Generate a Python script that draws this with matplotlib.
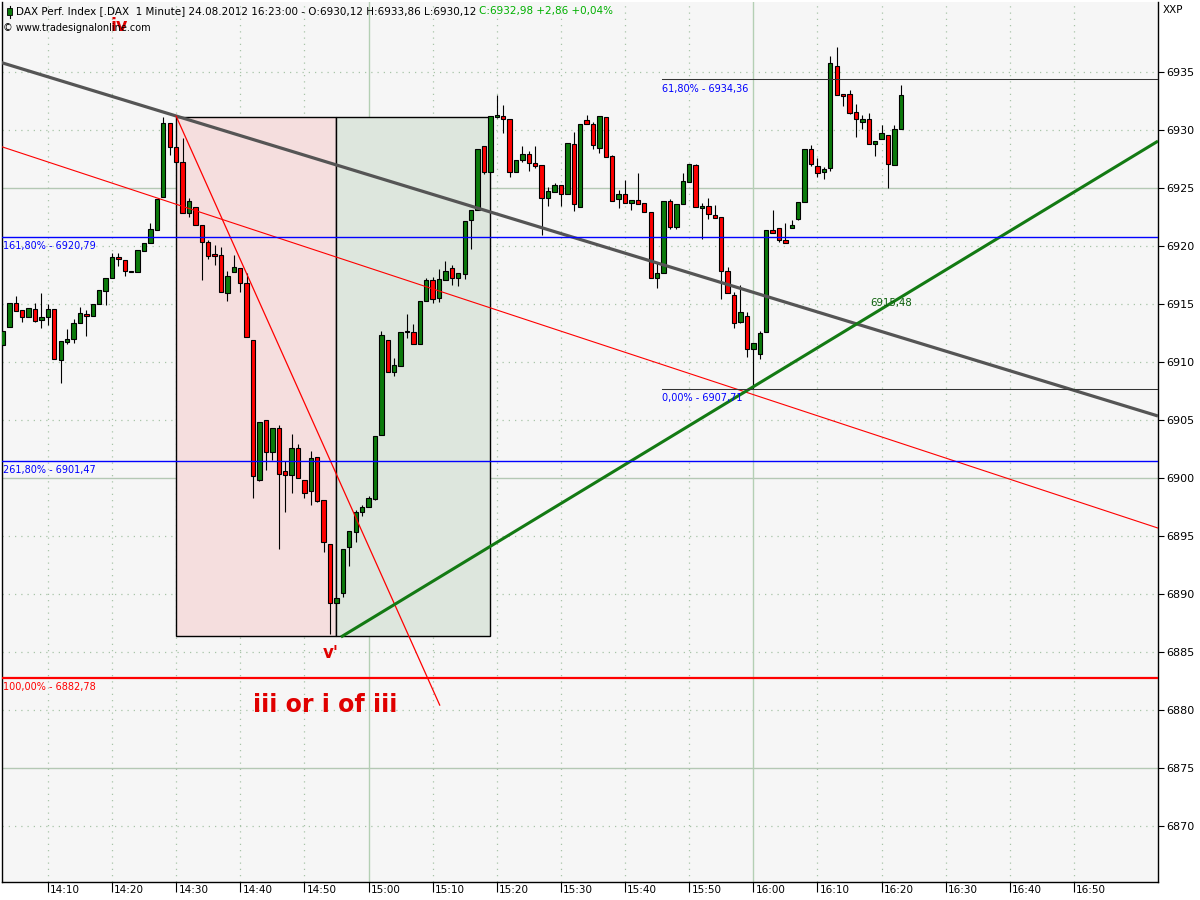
import numpy as np
import matplotlib
matplotlib.use("Agg")
import matplotlib.pyplot as plt
import matplotlib.transforms as mtransforms

# 1-minute DAX bars, first bar ends 14:03, last bar ends 16:23
first_bar_minute = 3  # minutes after 14:00

opens = [
    6911.5, 6913.0, 6915.1, 6914.5, 6913.9, 6914.6, 6913.6, 6913.9, 6914.6, 6910.2,
    6911.75, 6911.96, 6913.34, 6914.14, 6913.94, 6915.0, 6916.15, 6917.22, 6919.03, 6918.8,
    6917.85, 6917.76, 6919.57, 6920.29, 6921.38, 6924.25, 6930.63, 6928.51, 6927.22, 6922.82,
    6923.39, 6921.79, 6920.32, 6919.29, 6919.2, 6915.93, 6917.74, 6918.08, 6916.81, 6911.87,
    6899.86, 6904.98, 6902.22, 6904.29, 6900.58, 6900.24, 6902.56, 6899.8, 6898.86, 6901.79,
    6898.08, 6894.29, 6889.2, 6890.12, 6894.03, 6895.32, 6897.05, 6897.48, 6898.22, 6903.68,
    6911.87, 6909.12, 6909.68, 6912.56, 6912.56, 6911.58, 6915.29, 6917.05, 6915.49, 6917.05,
    6918.08, 6917.22, 6917.62, 6922.22, 6923.08, 6928.6, 6926.41, 6931.15, 6931.21, 6930.93,
    6926.41, 6927.42, 6927.93, 6927.13, 6926.96, 6924.12, 6924.68, 6925.26, 6924.46, 6928.8,
    6923.39, 6930.84, 6930.52, 6928.48, 6931.1, 6927.74, 6924.03, 6924.46, 6923.74, 6923.94,
    6923.71, 6922.93, 6917.22, 6917.65, 6923.86, 6921.67, 6923.6, 6925.49, 6926.99, 6923.25,
    6923.43, 6922.65, 6922.5, 6917.85, 6915.78, 6913.48, 6913.97, 6911.1, 6910.67, 6912.62,
    6921.36, 6921.53, 6920.49, 6921.53, 6922.36, 6923.77, 6928.34, 6926.87, 6926.36, 6926.7,
    6935.49, 6933.08, 6933.08, 6931.53, 6930.67, 6930.93, 6928.77, 6929.2, 6929.55, 6926.99,
    6930.12]

highs = [
    6912.7, 6915.1, 6915.69, 6914.5, 6914.63, 6915.06, 6915.93, 6915.0, 6914.6, 6911.79,
    6912.85, 6913.68, 6914.74, 6914.49, 6914.98, 6916.21, 6917.22, 6919.43, 6919.43, 6918.8,
    6917.85, 6919.66, 6920.29, 6921.96, 6924.05, 6931.1, 6930.63, 6928.51, 6929.29, 6924.14,
    6923.39, 6921.79, 6920.52, 6920.06, 6919.89, 6917.82, 6919.2, 6918.08, 6917.65, 6911.87,
    6904.8, 6904.98, 6904.29, 6904.57, 6901.47, 6903.8, 6902.93, 6899.8, 6902.33, 6901.79,
    6898.08, 6894.29, 6889.63, 6893.86, 6895.41, 6897.24, 6897.68, 6898.48, 6903.6, 6912.68,
    6911.87, 6910.32, 6912.56, 6914.12, 6913.25, 6915.24, 6917.24, 6917.36, 6917.99, 6918.68,
    6918.37, 6917.65, 6922.13, 6923.08, 6928.34, 6928.6, 6931.24, 6933.02, 6932.16, 6930.93,
    6927.39, 6928.62, 6928.22, 6928.62, 6926.96, 6925.06, 6925.41, 6925.26, 6928.88, 6929.8,
    6930.49, 6931.3, 6930.72, 6931.18, 6931.1, 6927.85, 6924.83, 6925.69, 6923.94, 6926.32,
    6923.71, 6922.93, 6918.51, 6923.86, 6924.03, 6923.6, 6926.32, 6927.05, 6927.07, 6923.74,
    6924.12, 6923.54, 6922.5, 6918.19, 6916.01, 6916.64, 6914.29, 6911.62, 6912.7, 6921.36,
    6923.11, 6921.53, 6922.01, 6922.22, 6923.77, 6928.34, 6928.68, 6927.56, 6926.81, 6936.38,
    6937.16, 6933.08, 6933.45, 6932.24, 6931.27, 6931.44, 6929.03, 6930.43, 6929.55, 6930.43,
    6933.86]

lows = [
    6911.5, 6913.0, 6914.43, 6913.48, 6913.9, 6913.48, 6912.96, 6913.19, 6910.24, 6908.17,
    6911.53, 6911.67, 6913.34, 6912.27, 6913.94, 6915.0, 6914.89, 6917.22, 6918.28, 6917.44,
    6917.74, 6917.76, 6919.57, 6920.29, 6921.38, 6924.25, 6927.85, 6927.22, 6922.82, 6922.48,
    6921.79, 6917.07, 6918.91, 6918.39, 6916.06, 6915.29, 6917.74, 6916.06, 6912.13, 6898.3,
    6899.74, 6900.72, 6901.58, 6893.86, 6897.1, 6898.74, 6899.98, 6898.3, 6897.7, 6897.96,
    6893.65, 6886.53, 6889.2, 6889.77, 6892.44, 6894.51, 6896.75, 6897.48, 6898.11, 6903.68,
    6909.12, 6908.82, 6909.68, 6912.1, 6911.58, 6911.58, 6915.29, 6915.12, 6915.2, 6917.05,
    6916.64, 6916.58, 6917.16, 6919.72, 6923.08, 6926.21, 6926.41, 6931.0, 6929.72, 6925.98,
    6926.41, 6927.27, 6926.49, 6926.75, 6920.95, 6923.48, 6924.68, 6923.45, 6924.46, 6923.05,
    6923.39, 6930.49, 6928.34, 6927.99, 6927.65, 6923.91, 6923.3, 6923.75, 6923.11, 6923.62,
    6922.91, 6917.27, 6916.41, 6917.65, 6921.44, 6921.44, 6923.6, 6925.49, 6923.34, 6920.58,
    6922.3, 6922.39, 6915.41, 6915.93, 6912.91, 6913.34, 6910.41, 6907.71, 6910.26, 6912.62,
    6921.1, 6920.32, 6920.24, 6921.53, 6922.24, 6923.77, 6926.9, 6925.98, 6925.75, 6926.49,
    6932.99, 6932.1, 6931.36, 6929.43, 6930.06, 6928.77, 6927.79, 6929.2, 6925.03, 6926.99,
    6930.12]

closes = [
    6912.7, 6915.1, 6914.43, 6913.91, 6914.63, 6913.56, 6913.88, 6914.6, 6910.24, 6911.79,
    6911.96, 6913.34, 6914.2, 6913.94, 6914.98, 6916.21, 6917.22, 6919.03, 6918.86, 6917.82,
    6917.74, 6919.66, 6920.29, 6921.44, 6924.05, 6930.58, 6928.51, 6927.22, 6922.82, 6923.86,
    6921.79, 6920.32, 6919.12, 6919.17, 6916.06, 6917.39, 6918.17, 6916.79, 6912.13, 6900.2,
    6904.8, 6902.22, 6904.29, 6900.32, 6900.24, 6902.56, 6899.98, 6898.68, 6901.7, 6898.05,
    6894.46, 6889.2, 6889.63, 6893.86, 6895.41, 6897.05, 6897.5, 6898.25, 6903.6, 6912.3,
    6909.12, 6909.72, 6912.56, 6912.56, 6911.58, 6915.24, 6917.05, 6915.41, 6917.13, 6917.82,
    6917.22, 6917.65, 6922.13, 6923.08, 6928.34, 6926.41, 6931.24, 6931.15, 6930.93, 6926.41,
    6927.39, 6927.93, 6927.13, 6926.93, 6924.12, 6924.74, 6925.26, 6924.46, 6928.88, 6923.6,
    6930.49, 6930.49, 6928.68, 6931.18, 6927.65, 6923.91, 6924.46, 6923.75, 6923.94, 6923.62,
    6922.91, 6917.27, 6917.65, 6923.86, 6921.67, 6923.6, 6925.58, 6927.05, 6923.34, 6923.43,
    6922.76, 6922.39, 6917.82, 6915.93, 6913.34, 6914.29, 6911.1, 6911.62, 6912.48, 6921.36,
    6921.15, 6920.52, 6920.24, 6921.79, 6923.77, 6928.34, 6927.05, 6926.27, 6926.62, 6935.75,
    6932.99, 6932.91, 6931.44, 6930.98, 6930.93, 6928.77, 6929.03, 6929.72, 6927.05, 6930.06,
    6932.98]

# fibonacci levels
fib_full = [("161,80% - 6920,79", 6920.79, "#0000ff"),
            ("261,80% - 6901,47", 6901.47, "#0000ff"),
            ("100,00% - 6882,78", 6882.78, "#ff0000")]
fib_partial = [("61,80% - 6934,36", 6934.36), ("0,00% - 6907,71", 6907.71)]
fib_partial_start = 105.8

# trend lines: (minute, price) end points
gray_line = ([2.5, 183.1], [6935.86, 6905.35])
red_channel = ([2.5, 183.1], [6928.62, 6895.69])
red_steep = ([30.0, 71.1], [6931.2, 6880.43])
green_trend = ([55.7, 183.1], [6886.3, 6929.05])
green_label = "6915,48"

# wave boxes (start min, end min, low, high)
pink_box = (30, 55, 6886.4, 6931.15)
green_box = (55, 79, 6886.4, 6931.15)

tick_minutes = list(range(10, 180, 10))
tick_labels = ["14:10", "14:20", "14:30", "14:40", "14:50", "15:00", "15:10", "15:20",
               "15:30", "15:40", "15:50", "16:00", "16:10", "16:20", "16:30", "16:40", "16:50"]
price_ticks = list(range(6870, 6940, 5))

plt.rcParams['font.family'] = ['DejaVu Sans']

fig = plt.figure(figsize=(12, 9), dpi=100)
fig.patch.set_facecolor("white")
ax = fig.add_axes([2 / 1200, 18 / 900, 1156 / 1200, 880 / 900])
ax.set_facecolor("#f6f6f6")
ax.set_xlim(2.85, 183.1)
ax.set_ylim(6865.18, 6941.04)

# grid
for p in price_ticks:
    if p % 25 == 0:
        ax.axhline(p, color="#b4c8b4", lw=1.0, zorder=0)
    else:
        ax.axhline(p, color="#a8c4a8", lw=0.9, ls=(0, (1, 4)), zorder=0)
for m in tick_minutes:
    if m % 60 == 0:
        ax.axvline(m, color="#b4cfb4", lw=1.0, zorder=0)
    else:
        ax.axvline(m, color="#a8c4a8", lw=0.9, ls=(0, (1, 4)), zorder=0)

# boxes
for (x0, x1, lo, hi), fc in [(pink_box, "#f5dede"), (green_box, "#dde6dd")]:
    ax.add_patch(plt.Rectangle((x0, lo), x1 - x0, hi - lo, facecolor=fc,
                               edgecolor="black", lw=1.0, zorder=1))

# candles
mins = np.arange(len(opens)) + first_bar_minute
o = np.array(opens)
c = np.array(closes)
h = np.array(highs)
l = np.array(lows)
up = c >= o
ax.vlines(mins, l, h, color="black", lw=0.8, zorder=2)
body_lo = np.minimum(o, c)
body_h = np.maximum(np.abs(c - o), 0.12)
colors = np.where(up, "#0b7a0b", "#ff0000")
ax.bar(mins, body_h, bottom=body_lo, width=0.68, color=colors,
       edgecolor="black", lw=0.8, zorder=3)

# trend lines
ax.plot(*gray_line, color="#555555", lw=2.3, zorder=4, solid_capstyle="butt")
ax.plot(*red_channel, color="#ff0000", lw=0.8, zorder=4)
ax.plot(*red_steep, color="#ff0000", lw=0.9, zorder=4)
ax.plot(*green_trend, color="#137a13", lw=2.2, zorder=4, solid_capstyle="butt")
ax.text(138.2, 6915.1, green_label, color="#0b600b", fontsize=7.3, va="center", zorder=6)

# fib lines
for lab, val, col in fib_full:
    lw = 1.6 if col == "#ff0000" else 1.0
    ax.axhline(val, color=col, lw=lw, zorder=5, snap=True)
    ax.text(2.95, val - 0.35, lab, color=col, fontsize=7.0, va="top", ha="left", zorder=6)
for lab, val in fib_partial:
    ax.plot([fib_partial_start, 183.1], [val, val], color="#333333", lw=0.75, zorder=5)
    ax.text(fib_partial_start, val - 0.35, lab, color="#0000ff", fontsize=7.0,
            va="top", ha="left", zorder=6)

# wave labels
ax.text(21.2, 6939.0, "iv", color="#e00000", fontsize=12.5, fontweight="bold",
        ha="center", va="center", zorder=6)
ax.text(54.1, 6884.9, "v'", color="#e00000", fontsize=12, fontweight="bold",
        ha="center", va="center", zorder=6)
ax.text(53.2, 6880.4, "iii or i of iii", color="#e00000", fontsize=17,
        fontweight="bold", ha="center", va="center", zorder=6)

# header
hdr_y = 0.9895
t1 = ax.text(0.012, hdr_y, "DAX Perf. Index [.DAX  1 Minute] 24.08.2012 16:23:00 - O:6930,12 H:6933,86 L:6930,12 ",
             transform=ax.transAxes, fontsize=7.45, va="center", ha="left", zorder=8)
fig.canvas.draw()
bb = t1.get_window_extent().transformed(ax.transAxes.inverted())
ax.text(bb.x1, hdr_y, "C:6932,98 +2,86 +0,04%", transform=ax.transAxes, fontsize=7.45,
        color="#00b000", va="center", ha="left", zorder=8)
ax.text(0.001, 0.970, "\u00a9 www.tradesignalonline.com", transform=ax.transAxes,
        fontsize=7.0, va="center", ha="left", zorder=8)
# tiny candle icon
ax.plot([0.0065, 0.0065], [0.982, 0.996], transform=ax.transAxes, color="black", lw=0.8, zorder=8)
ax.add_patch(plt.Rectangle((0.0045, 0.985), 0.004, 0.008, transform=ax.transAxes,
                           facecolor="#0b7a0b", edgecolor="black", lw=0.6, zorder=9))

# axes styling
for side in ["left", "bottom", "right"]:
    ax.spines[side].set_color("black")
    ax.spines[side].set_linewidth(1.0)
ax.spines["top"].set_visible(False)

ax.yaxis.tick_right()
ax.set_yticks(price_ticks)
ax.set_yticklabels([str(p) for p in price_ticks], fontsize=8)
ax.tick_params(axis="y", length=4, width=0.8, pad=2)

ax.set_xticks(tick_minutes)
ax.set_xticklabels([])
ax.tick_params(axis="x", length=7, width=0.8, direction="out")
trans = mtransforms.blended_transform_factory(ax.transData, ax.transAxes)
for m, lab in zip(tick_minutes, tick_labels):
    ax.text(m + 0.35, -0.003, lab, transform=trans, fontsize=7.5, ha="left", va="top",
            family=["Liberation Sans Narrow", "DejaVu Sans"])

fig.text(1163 / 1200, 1 - 10 / 900, "XXP", fontsize=7.5, va="center", ha="left")

fig.savefig("out.png", dpi=100)
